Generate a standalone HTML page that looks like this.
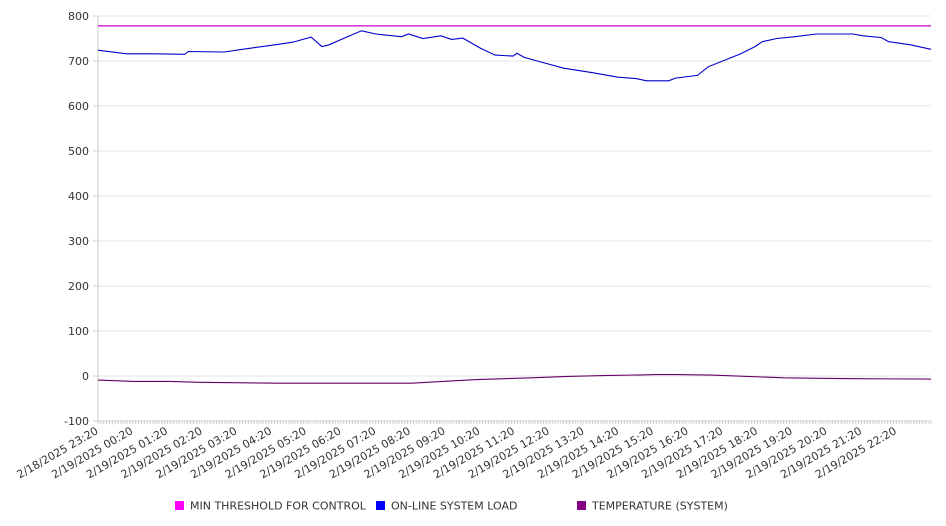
<!DOCTYPE html>
<html><head><meta charset="utf-8"><style>
html,body{margin:0;padding:0;background:#fff;}
svg{display:block;font-family:"DejaVu Sans","Liberation Sans",sans-serif;}
</style></head><body>
<svg id="chart" width="946" height="526" viewBox="0 0 946 526" xmlns="http://www.w3.org/2000/svg">
<g id="grid"></g>
<g id="axes"></g>
<g id="series"></g>
<g id="legend"></g>
</svg>
<script>
const yTicks = [800,700,600,500,400,300,200,100,0,-100];
const xTickLabels = ["2/18/2025 23:20","2/19/2025 00:20","2/19/2025 01:20","2/19/2025 02:20","2/19/2025 03:20","2/19/2025 04:20","2/19/2025 05:20","2/19/2025 06:20","2/19/2025 07:20","2/19/2025 08:20","2/19/2025 09:20","2/19/2025 10:20","2/19/2025 11:20","2/19/2025 12:20","2/19/2025 13:20","2/19/2025 14:20","2/19/2025 15:20","2/19/2025 16:20","2/19/2025 17:20","2/19/2025 18:20","2/19/2025 19:20","2/19/2025 20:20","2/19/2025 21:20","2/19/2025 22:20"];
const thresholdValue = 778;
const loadHours = [0,0.83,1.66,2.5,2.6,3.64,4.16,5.2,5.62,6.14,6.45,6.66,7.07,7.59,8.01,8.74,8.95,9.36,9.88,10.19,10.51,11.03,11.44,11.96,12.07,12.28,12.8,13.42,14.25,14.98,15.5,15.81,16.44,16.64,17.27,17.58,18.52,18.93,19.14,19.56,20.08,20.7,21.43,21.74,22.05,22.57,22.78,23.41,24];
const loadValues = [724,716,716,715,721,720,726,737,742,753,732,736,750,767,760,754,760,750,756,748,751,728,713,711,717,708,697,684,674,664,661,656,656,662,668,687,716,732,743,750,754,760,760,760,756,752,743,736,726];
const tempHours = [0,1.04,2.08,2.91,5.2,9.05,9.67,10.19,10.92,12.48,13.52,14.56,16.12,16.64,17.68,18.72,19.76,20.8,21.84,24];
const tempValues = [-9,-12,-12,-14,-16,-16,-13,-11,-8,-4,-1,1,3,3,2,-1,-4,-5,-6,-7];

const NS="http://www.w3.org/2000/svg";
const L=98,R=931,T=16,B=421,XMAX=24,YMIN=-100,YMAX=800;
const xs=h=>L+(h/XMAX)*(R-L);
const ys=v=>B-(v-YMIN)/(YMAX-YMIN)*(B-T);
function mk(tag,attrs,parent){const e=document.createElementNS(NS,tag);for(const k in attrs)e.setAttribute(k,attrs[k]);parent.appendChild(e);return e;}
const grid=document.getElementById('grid'),axes=document.getElementById('axes'),series=document.getElementById('series'),legend=document.getElementById('legend');
yTicks.forEach(v=>{
  const ln=mk('line',{x1:L,x2:R,y1:ys(v),y2:ys(v),stroke:'#e6e6e6','stroke-width':1},grid);
  
  
  const tk=mk('line',{x1:L-5,x2:L,y1:ys(v),y2:ys(v),stroke:'#ccc'},axes);
  
  
  const t=mk('text',{x:L-9,y:ys(v)+4,'text-anchor':'end','font-size':11,fill:'#333'},axes);
  t.textContent=v;
  
  
});
const ya=mk('line',{x1:L,x2:L,y1:T,y2:B,stroke:'#ccc'},axes);


const xa=mk('line',{x1:L,x2:R,y1:B,y2:B,stroke:'#ccc'},axes);


for(let m=0;m<=XMAX*12;m++){
  const mt=mk('line',{x1:xs(m/12),x2:xs(m/12),y1:B,y2:B+3,stroke:'#ccc'},axes);
  
  
}
xTickLabels.forEach((s,i)=>{
  const x=xs(i)+1,y=B+12;
  const t=mk('text',{x:x,y:y,'text-anchor':'end','font-size':11,fill:'#333',transform:`rotate(-30 ${x} ${y})`},axes);
  t.textContent=s;
  
  
});
const th=mk('line',{x1:L,x2:R,y1:ys(thresholdValue),y2:ys(thresholdValue),stroke:'#cc00cc','stroke-width':1.2},series);


function path(hs,vs,color,name){
  const d=hs.map((h,i)=>(i?'L':'M')+xs(h).toFixed(1)+' '+ys(vs[i]).toFixed(1)).join(' ');
  const p=mk('path',{d:d,fill:'none',stroke:color,'stroke-width':1.1},series);
  
  
}
path(loadHours,loadValues,'#0000cc','system-load-line');
path(tempHours,tempValues,'#660066','temperature-line');
[[175,'#ff00ff','MIN THRESHOLD FOR CONTROL','legend-min-threshold'],[376,'#0000ff','ON-LINE SYSTEM LOAD','legend-system-load'],[577,'#800080','TEMPERATURE (SYSTEM)','legend-temperature']].forEach(a=>{
  const g=mk('g',{},legend);
  
  
  mk('rect',{x:a[0],y:501,width:9,height:9,fill:a[1]},g);
  const t=mk('text',{x:a[0]+15,y:509.5,'font-size':11,fill:'#333'},g);
  t.textContent=a[2];
});
</script>
</body></html>
